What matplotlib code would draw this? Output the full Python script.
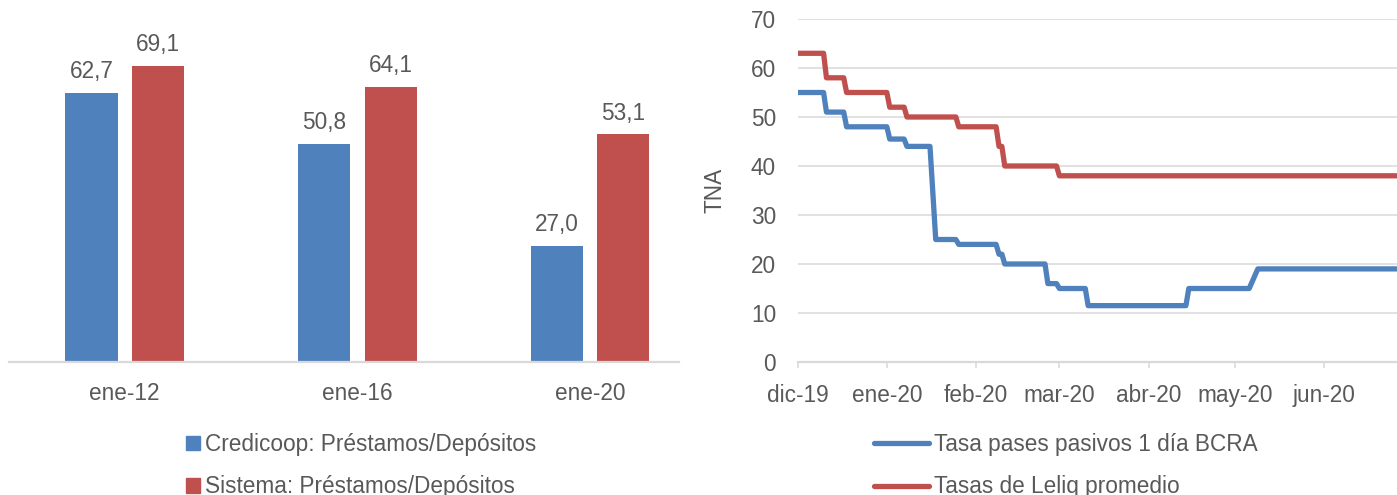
import matplotlib.pyplot as plt
import matplotlib.dates as mdates
from matplotlib.patches import Patch
from matplotlib.lines import Line2D
import numpy as np
import datetime as dt

# left chart: loans / deposits ratio
bar_categories = ["ene-12", "ene-16", "ene-20"]
credicoop_vals = [62.7, 50.8, 27.0]
sistema_vals = [69.1, 64.1, 53.1]
bar_labels = ["Credicoop: Préstamos/Depósitos", "Sistema: Préstamos/Depósitos"]

# right chart: rates (daily readings at each change)
pases_dates = ["2019-12-01", "2019-12-10", "2019-12-11", "2019-12-17", "2019-12-18",
               "2020-01-01", "2020-01-02", "2020-01-07", "2020-01-08", "2020-01-16",
               "2020-01-18", "2020-01-25", "2020-01-26", "2020-02-08", "2020-02-09",
               "2020-02-10", "2020-02-11", "2020-02-25", "2020-02-26", "2020-02-29",
               "2020-03-01", "2020-03-10", "2020-03-11", "2020-04-14", "2020-04-15",
               "2020-05-06", "2020-05-09", "2020-06-30"]
pases_vals = [55, 55, 51, 51, 48,
              48, 45.5, 45.5, 44, 44,
              25, 25, 24, 24, 22,
              22, 20, 20, 16, 16,
              15, 15, 11.5, 11.5, 15,
              15, 19, 19]

leliq_dates = ["2019-12-01", "2019-12-10", "2019-12-11", "2019-12-17", "2019-12-18",
               "2020-01-01", "2020-01-02", "2020-01-07", "2020-01-08", "2020-01-25",
               "2020-01-26", "2020-02-08", "2020-02-09", "2020-02-10", "2020-02-11",
               "2020-02-29", "2020-03-01", "2020-06-30"]
leliq_vals = [63, 63, 58, 58, 55,
              55, 52, 52, 50, 50,
              48, 48, 44, 44, 40,
              40, 38, 38]

line_labels = ["Tasa pases pasivos 1 día BCRA", "Tasas de Leliq promedio"]
month_ticks = ["2019-12-01", "2020-01-01", "2020-02-01", "2020-03-01",
               "2020-04-01", "2020-05-01", "2020-06-01"]
month_labels = ["dic-19", "ene-20", "feb-20", "mar-20", "abr-20", "may-20", "jun-20"]

BLUE = "#4F81BD"
RED = "#C0504D"
GRID = "#D9D9D9"
TXT = "#595959"
FS = 16.3

plt.rcParams["font.family"] = ["Liberation Sans", "DejaVu Sans"]
plt.rcParams["font.size"] = FS

W, H = 1397, 495
fig = plt.figure(figsize=(W / 100, H / 100), dpi=100)

def to_date(s):
    return dt.datetime.strptime(s, "%Y-%m-%d")

# ---- left: bars ----
ax1 = fig.add_axes([9 / W, 1 - 361.7 / H, 670 / W, (361.7 - 19) / H])
x = np.arange(len(bar_categories))
bw = 0.2235
off = 0.1425
b1 = ax1.bar(x - off, credicoop_vals, bw, color=BLUE)
b2 = ax1.bar(x + off, sistema_vals, bw, color=RED)
for bars, vals in [(b1, credicoop_vals), (b2, sistema_vals)]:
    ax1.bar_label(bars, labels=[f"{v:.1f}".replace(".", ",") for v in vals],
                  padding=7, color=TXT, fontsize=FS)
ax1.set_xlim(-0.497, 2.382)
ax1.set_ylim(0, 80)
ax1.set_xticks(x)
ax1.set_xticklabels(bar_categories, color=TXT)
ax1.tick_params(axis="x", length=0, pad=14.5)
ax1.set_yticks([])
for s in ["left", "top", "right"]:
    ax1.spines[s].set_visible(False)
ax1.spines["bottom"].set_color(GRID)
ax1.spines["bottom"].set_linewidth(1.6)

fig.legend([Patch(color=BLUE), Patch(color=RED)], bar_labels,
           loc="upper left", bbox_to_anchor=(186 / W, 1 - 433 / H),
           frameon=False, borderpad=0, borderaxespad=0, handlelength=0.6,
           handleheight=0.6, handletextpad=0.25, labelspacing=0.86,
           labelcolor=TXT, fontsize=FS)

# ---- right: step lines ----
ax2 = fig.add_axes([797.7 / W, 1 - 362 / H, (W - 797.7) / W, 343 / H])
pd_ = [to_date(d) for d in pases_dates]
ld_ = [to_date(d) for d in leliq_dates]
ax2.plot(pd_, pases_vals, color=BLUE, lw=3.8, solid_joinstyle="round",
         solid_capstyle="butt", zorder=3)
ax2.plot(ld_, leliq_vals, color=RED, lw=3.8, solid_joinstyle="round",
         solid_capstyle="butt", zorder=3)
start = to_date(month_ticks[0])
ax2.set_xlim(mdates.date2num(start), mdates.date2num(start) + 208.4)
ax2.set_ylim(0, 70)
ax2.set_yticks(range(0, 71, 10))
ax2.set_yticklabels([str(v) for v in range(0, 71, 10)], color=TXT)
ax2.tick_params(axis="y", length=0, pad=15.6)
ax2.set_xticks([to_date(d) for d in month_ticks])
ax2.set_xticklabels(month_labels, color=TXT)
ax2.tick_params(axis="x", length=4.3, width=1.1, color=GRID, pad=11.5)
ax2.grid(axis="y", color=GRID, lw=1.1)
ax2.set_axisbelow(True)
for s in ["left", "top", "right"]:
    ax2.spines[s].set_visible(False)
ax2.spines["bottom"].set_color(GRID)
ax2.spines["bottom"].set_linewidth(1.6)
ax2.set_ylabel("TNA", color=TXT)
ax2.yaxis.set_label_coords(-0.1185, 0.5)

fig.legend([Line2D([], [], color=BLUE, lw=3.8, solid_capstyle="round"),
            Line2D([], [], color=RED, lw=3.8, solid_capstyle="round")],
           line_labels, loc="upper left", bbox_to_anchor=(874 / W, 1 - 433 / H),
           frameon=False, borderpad=0, borderaxespad=0, handlelength=2.45,
           handletextpad=0.18, labelspacing=0.86, labelcolor=TXT, fontsize=FS)

fig.savefig("out.png", dpi=100)
